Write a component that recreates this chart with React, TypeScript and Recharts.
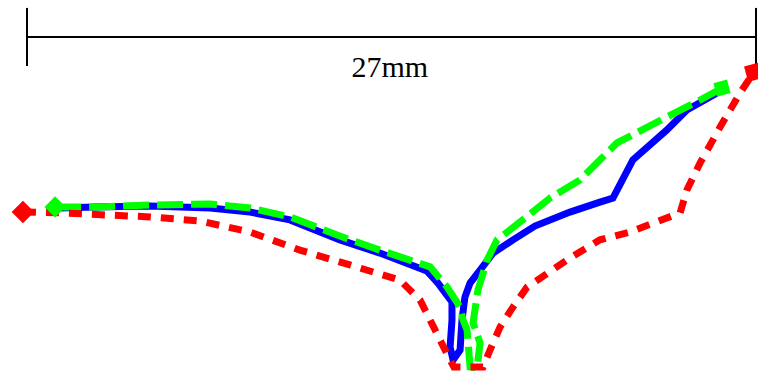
import { ComposedChart, Line, Scatter, XAxis, YAxis, ReferenceLine, ReferenceDot } from 'recharts';

// profile coordinates, mm (x across the 27mm span, y up from the bottom edge)
const blueX = [1.22, 2.52, 4.56, 6.78, 8.26, 9.74, 11.59, 13.07, 14.81, 15.22, 15.74, 15.74, 15.67, 15.78, 16.04, 16.11, 16.22, 16.41, 16.78, 17.26, 18.0, 18.81, 20.11, 21.22, 21.7, 22.44, 23.7, 24.44, 25.56];
const blueY = [6.37, 6.41, 6.44, 6.37, 6.22, 5.93, 5.19, 4.7, 4.04, 3.59, 2.89, 2.22, 1.22, 0.74, 1.11, 2.22, 3.07, 3.59, 4.07, 4.7, 5.19, 5.7, 6.22, 6.59, 6.74, 8.15, 9.26, 10.0, 10.63];

const greenX = [1.04, 2.7, 4.56, 6.78, 8.26, 9.74, 11.78, 13.07, 14.93, 15.56, 16.04, 16.15, 16.3, 16.41, 16.67, 16.78, 16.52, 16.7, 17.04, 17.41, 18.26, 19.37, 20.48, 21.22, 21.85, 23.7, 24.93, 25.74];
const greenY = [6.41, 6.41, 6.48, 6.52, 6.37, 6.04, 5.26, 4.81, 4.19, 3.44, 2.7, 2.22, 1.85, 0.48, 0.44, 1.37, 2.11, 3.33, 4.44, 5.19, 5.85, 6.74, 7.41, 8.15, 8.78, 9.74, 10.37, 10.81];

const redX = [-0.15, 1.22, 4.56, 6.41, 8.26, 10.11, 11.96, 13.81, 14.56, 14.93, 15.3, 15.67, 15.81, 16.89, 17.15, 17.52, 18.0, 18.52, 19.19, 20.11, 21.22, 22.33, 24.19, 24.44, 24.93, 25.67, 26.41, 26.92];
const redY = [6.22, 6.19, 6.04, 5.89, 5.48, 4.81, 4.26, 3.7, 2.96, 2.22, 1.48, 0.74, 0.48, 0.48, 1.11, 1.96, 2.7, 3.44, 3.89, 4.52, 5.19, 5.48, 6.19, 7.04, 8.04, 9.37, 10.63, 11.4];

const spanMm = 27;
const dimY = 12.7;
const tickTop = 13.78;
const tickBottom = 11.63;

const toPoints = (xs: number[], ys: number[]) => xs.map((x, i) => ({ x, y: ys[i] }));

// start marker is a diamond, end marker a slightly tilted square
function markerShape(color: string, startSize: number, endSize: number) {
  return (props: any) => {
    const { cx, cy, payload } = props;
    const isEnd = payload && payload.end;
    const s = isEnd ? endSize : startSize;
    const angle = isEnd ? -15 : 45;
    return (
      <rect
        x={cx - s / 2}
        y={cy - s / 2}
        width={s}
        height={s}
        fill={color}
        stroke="none"
        transform={`rotate(${angle} ${cx} ${cy})`}
      />
    );
  };
}

export default function App() {
  const blue = toPoints(blueX, blueY);
  const green = toPoints(greenX, greenY);
  const red = toPoints(redX, redY);
  const ends = (pts: { x: number; y: number }[]) => [
    { ...pts[0], end: false },
    { ...pts[pts.length - 1], end: true },
  ];

  return (
    <div style={{ position: 'absolute', left: 0, top: 0, width: 758, height: 380, background: '#fff' }}>
      <ComposedChart width={758} height={380} margin={{ top: 0, right: 0, bottom: 0, left: 0 }}>
        <XAxis type="number" dataKey="x" domain={[-1, 27.074]} hide allowDataOverflow />
        <YAxis type="number" dataKey="y" domain={[0, 14.074]} hide allowDataOverflow />

        <ReferenceLine segment={[{ x: 0, y: dimY }, { x: spanMm, y: dimY }]} stroke="#000" strokeWidth={2} />
        <ReferenceLine segment={[{ x: 0, y: tickTop }, { x: 0, y: tickBottom }]} stroke="#000" strokeWidth={2} />
        <ReferenceLine segment={[{ x: spanMm, y: tickTop }, { x: spanMm, y: 11.5 }]} stroke="#000" strokeWidth={2} />
        <ReferenceDot
          x={13.44}
          y={11.62}
          r={0}
          fill="none"
          stroke="none"
          label={{ value: '27mm', position: 'center', fill: '#000', fontSize: 30, fontFamily: '"Liberation Serif", serif' }}
        />

        <Line data={blue} dataKey="y" type="linear" stroke="#0000ff" strokeWidth={7} dot={false} activeDot={false} isAnimationActive={false} />
        <Line
          data={green}
          dataKey="y"
          type="linear"
          stroke="#00ff00"
          strokeWidth={7}
          strokeDasharray="26 8"
          dot={false}
          activeDot={false}
          isAnimationActive={false}
        />
        <Scatter data={ends(green)} dataKey="y" shape={markerShape('#00ff00', 15, 14)} activeShape={false} isAnimationActive={false} />
        <Line
          data={red}
          dataKey="y"
          type="linear"
          stroke="#ff0000"
          strokeWidth={7}
          strokeDasharray="13 10"
          dot={false}
          activeDot={false}
          isAnimationActive={false}
        />
        <Scatter data={ends(red)} dataKey="y" shape={markerShape('#ff0000', 16, 16)} activeShape={false} isAnimationActive={false} />
      </ComposedChart>
    </div>
  );
}
